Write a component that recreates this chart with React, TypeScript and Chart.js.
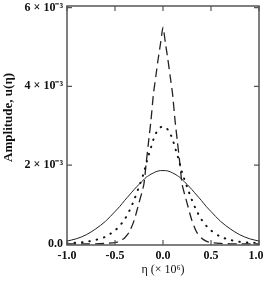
import React, { useEffect, useRef } from "react";
import { Chart, registerables } from "chart.js";

Chart.register(...registerables);

// η (× 10^6)
const etaValues = [-1.0, -0.9, -0.8, -0.7, -0.6, -0.5, -0.45, -0.4, -0.35, -0.3, -0.25, -0.2, -0.175, -0.15, -0.125, -0.1, -0.075, -0.05, -0.025, 0, 0.025, 0.05, 0.075, 0.1, 0.125, 0.15, 0.175, 0.2, 0.25, 0.3, 0.35, 0.4, 0.45, 0.5, 0.6, 0.7, 0.8, 0.9, 1.0];
// amplitudes in units of 10^-3
const solidValues = [0.07, 0.13, 0.23, 0.38, 0.57, 0.82, 0.95, 1.10, 1.24, 1.38, 1.51, 1.63, 1.69, 1.73, 1.77, 1.80, 1.83, 1.85, 1.86, 1.86, 1.86, 1.85, 1.83, 1.80, 1.77, 1.73, 1.69, 1.63, 1.51, 1.38, 1.24, 1.10, 0.95, 0.82, 0.57, 0.38, 0.23, 0.13, 0.07];
const dottedValues = [0.02, 0.03, 0.05, 0.1, 0.18, 0.34, 0.46, 0.62, 0.84, 1.12, 1.45, 1.8, 2.03, 2.25, 2.45, 2.65, 2.8, 2.9, 2.96, 2.98, 2.96, 2.9, 2.8, 2.65, 2.45, 2.25, 2.03, 1.8, 1.45, 1.12, 0.84, 0.62, 0.46, 0.34, 0.18, 0.1, 0.05, 0.03, 0.02];
const dashedValues = [0, 0, 0, 0, 0.01, 0.03, 0.07, 0.15, 0.3, 0.6, 1.04, 1.5, 2.05, 2.6, 3.14, 3.8, 4.25, 4.7, 5.1, 5.5, 5.1, 4.7, 4.25, 3.8, 3.14, 2.6, 2.05, 1.5, 1.04, 0.6, 0.3, 0.15, 0.07, 0.03, 0.01, 0, 0, 0, 0];

const xTickValues = [-1.0, -0.5, 0, 0.5, 1.0];
const xTickLabels = ["-1.0", "-0.5", "0.0", "0.5", "1.0\u00a0\u00a0"];
const yTickValues = [0, 2, 4, 6];
const yTickLabels = ["0.0", "2 × 10⁻³", "4 × 10⁻³", "6 × 10⁻³"];

const FRAME = "#555555";
const SERIF = "'Liberation Serif', 'Times New Roman', serif";

const framePlugin = {
  id: "frameTicks",
  afterDraw(chart: any) {
    const { ctx, chartArea } = chart;
    const { left, right, top, bottom } = chartArea;
    const xs = chart.scales.x;
    const ys = chart.scales.y;
    ctx.save();
    ctx.strokeStyle = FRAME;
    ctx.lineWidth = 1.5;
    ctx.strokeRect(left, top, right - left, bottom - top);
    ctx.lineWidth = 1.2;
    const len = 5;
    ctx.beginPath();
    xTickValues.forEach((v) => {
      const px = xs.getPixelForValue(v);
      ctx.moveTo(px, bottom);
      ctx.lineTo(px, bottom - len);
      ctx.moveTo(px, top);
      ctx.lineTo(px, top + len);
    });
    yTickValues.forEach((v) => {
      const py = ys.getPixelForValue(v);
      ctx.moveTo(left, py);
      ctx.lineTo(left + len, py);
      ctx.moveTo(right, py);
      ctx.lineTo(right - len, py);
    });
    ctx.stroke();
    ctx.restore();
  },
};

export default function App() {
  const ref = useRef<HTMLCanvasElement | null>(null);
  useEffect(() => {
    if (!ref.current) return;
    const mk = (vals: number[]) => etaValues.map((x, i) => ({ x, y: vals[i] }));
    const chart = new Chart(ref.current, {
      type: "line",
      data: {
        datasets: [
          {
            data: mk(solidValues),
            borderColor: "#222",
            borderWidth: 1,
            pointRadius: 0,
            tension: 0.3,
          },
          {
            data: mk(dottedValues),
            borderColor: "#111",
            borderWidth: 2,
            borderDash: [0.5, 7],
            borderCapStyle: "round",
            pointRadius: 0,
            tension: 0.3,
          },
          {
            data: mk(dashedValues),
            borderColor: "#222",
            borderWidth: 1.3,
            borderDash: [9, 5],
            pointRadius: 0,
            tension: 0.2,
          },
        ],
      },
      options: {
        animation: false,
        responsive: true,
        maintainAspectRatio: false,
        layout: { padding: { top: 6, right: 6, left: 0, bottom: 0 } },
        plugins: { legend: { display: false }, tooltip: { enabled: false } },
        scales: {
          x: {
            type: "linear",
            min: -1,
            max: 1,
            afterBuildTicks: (s: any) => {
              s.ticks = xTickValues.map((value) => ({ value }));
            },
            afterFit: (s: any) => {
              s.height = 37;
              s.paddingLeft = 0;
              s.paddingRight = 0;
            },
            ticks: {
              callback: (_v: any, i: number) => xTickLabels[i],
              font: { family: SERIF, size: 12, weight: "bold" },
              color: "#111",
              padding: 4,
              maxRotation: 0,
              autoSkip: false,
            },
            grid: { display: false, drawTicks: false },
            border: { display: false },
            title: {
              display: true,
              text: "η (× 10⁶)",
              font: { family: SERIF, size: 12 },
              color: "#111",
              padding: { top: 0, bottom: 5 },
            },
          },
          y: {
            type: "linear",
            min: -0.03,
            max: 6.04,
            afterBuildTicks: (s: any) => {
              s.ticks = yTickValues.map((value) => ({ value }));
            },
            afterFit: (s: any) => {
              s.width = 67;
              s.paddingTop = 0;
              s.paddingBottom = 0;
            },
            ticks: {
              callback: (_v: any, i: number) => yTickLabels[i],
              font: { family: SERIF, size: 12, weight: "bold" },
              color: "#111",
              padding: 4,
              autoSkip: false,
            },
            grid: { display: false, drawTicks: false },
            border: { display: false },
            title: {
              display: true,
              text: "\u00a0\u00a0\u00a0\u00a0\u00a0Amplitude, u(η)",
              font: { family: SERIF, size: 13, weight: "bold" },
              color: "#111",
              padding: { top: 1, bottom: 0 },
            },
          },
        },
      },
      plugins: [framePlugin],
    } as any);
    return () => chart.destroy();
  }, []);
  return (
    <div style={{ position: "absolute", left: 0, top: 0, width: 265, height: 282 }}>
      <canvas ref={ref} />
    </div>
  );
}
